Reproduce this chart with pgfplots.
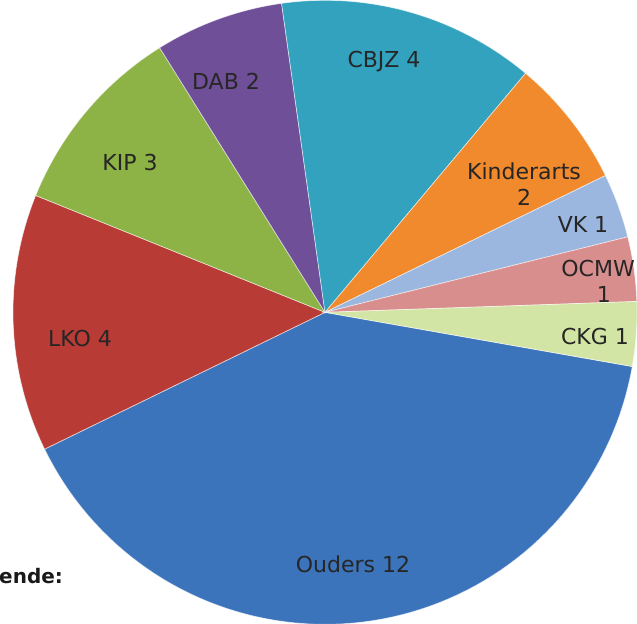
\documentclass[border=0pt]{standalone}
\usepackage{pgfplots}
\pgfplotsset{compat=1.18}
\usepackage{pgfplotstable}
\usepackage{fontspec}
\setmainfont{DejaVu Sans}

\definecolor{c0}{HTML}{3C74BC}
\definecolor{c1}{HTML}{B83B36}
\definecolor{c2}{HTML}{8DB245}
\definecolor{c3}{HTML}{6F4F97}
\definecolor{c4}{HTML}{32A2BF}
\definecolor{c5}{HTML}{F08A2D}
\definecolor{c6}{HTML}{9CB7DF}
\definecolor{c7}{HTML}{D88E8D}
\definecolor{c8}{HTML}{D3E5A4}

% name, value
\pgfplotstableread[col sep=comma]{
name,value
Ouders,12
LKO,4
KIP,3
DAB,2
CBJZ,4
Kinderarts,2
VK,1
OCMW,1
CKG,1
}\pie

\tikzset{lbl/.style={font=\fontsize{22}{26}\selectfont, text=black!85}}

\begin{document}
\begin{tikzpicture}
\begin{axis}[
  scale only axis, width=637pt, height=629pt,
  xmin=-325, xmax=312, ymin=-311, ymax=318,
  hide axis, clip=true,
]
\def\startang{-10}
\pgfplotsforeachungrouped \i in {0,...,8}{%
  \pgfplotstablegetelem{\i}{value}\of\pie
  \let\val\pgfplotsretval
  \pgfmathsetmacro\endang{\startang - \val*360/30}
  \edef\tmp{\noexpand\addplot[fill=c\i, draw=white, draw opacity=0.6, line width=0.7pt,
     domain=\startang:\endang, samples=80, variable=\noexpand\t]
     ({312*cos(\noexpand\t)},{312*sin(\noexpand\t)}) -- (axis cs:0,0) -- cycle;}
  \tmp
  \let\startang\endang
}
\node[lbl] at (axis cs:28,-252) {Ouders 12};
\node[lbl] at (axis cs:-245,-26) {LKO 4};
\node[lbl] at (axis cs:-195,150) {KIP 3};
\node[lbl] at (axis cs:-99,231) {DAB 2};
\node[lbl] at (axis cs:59,251) {CBJZ 4};
\node[lbl, align=center, inner sep=0pt] at (axis cs:199,128) {Kinderarts\\2};
\node[lbl] at (axis cs:258,88) {VK 1};
\node[lbl, anchor=east, align=right, inner sep=0pt] at (axis cs:310,31) {OCMW\\1\hspace*{24pt}};
\node[lbl, anchor=west, inner sep=0pt] at (axis cs:-325,-24) {\phantom{x}};
\node[lbl] at (axis cs:270,-24) {CKG 1};
\node[anchor=west, inner sep=0pt, font=\fontsize{20}{23}\selectfont\bfseries, text=black!90] at (axis cs:-326,-264) {ende:};
\end{axis}
\end{tikzpicture}
\end{document}
